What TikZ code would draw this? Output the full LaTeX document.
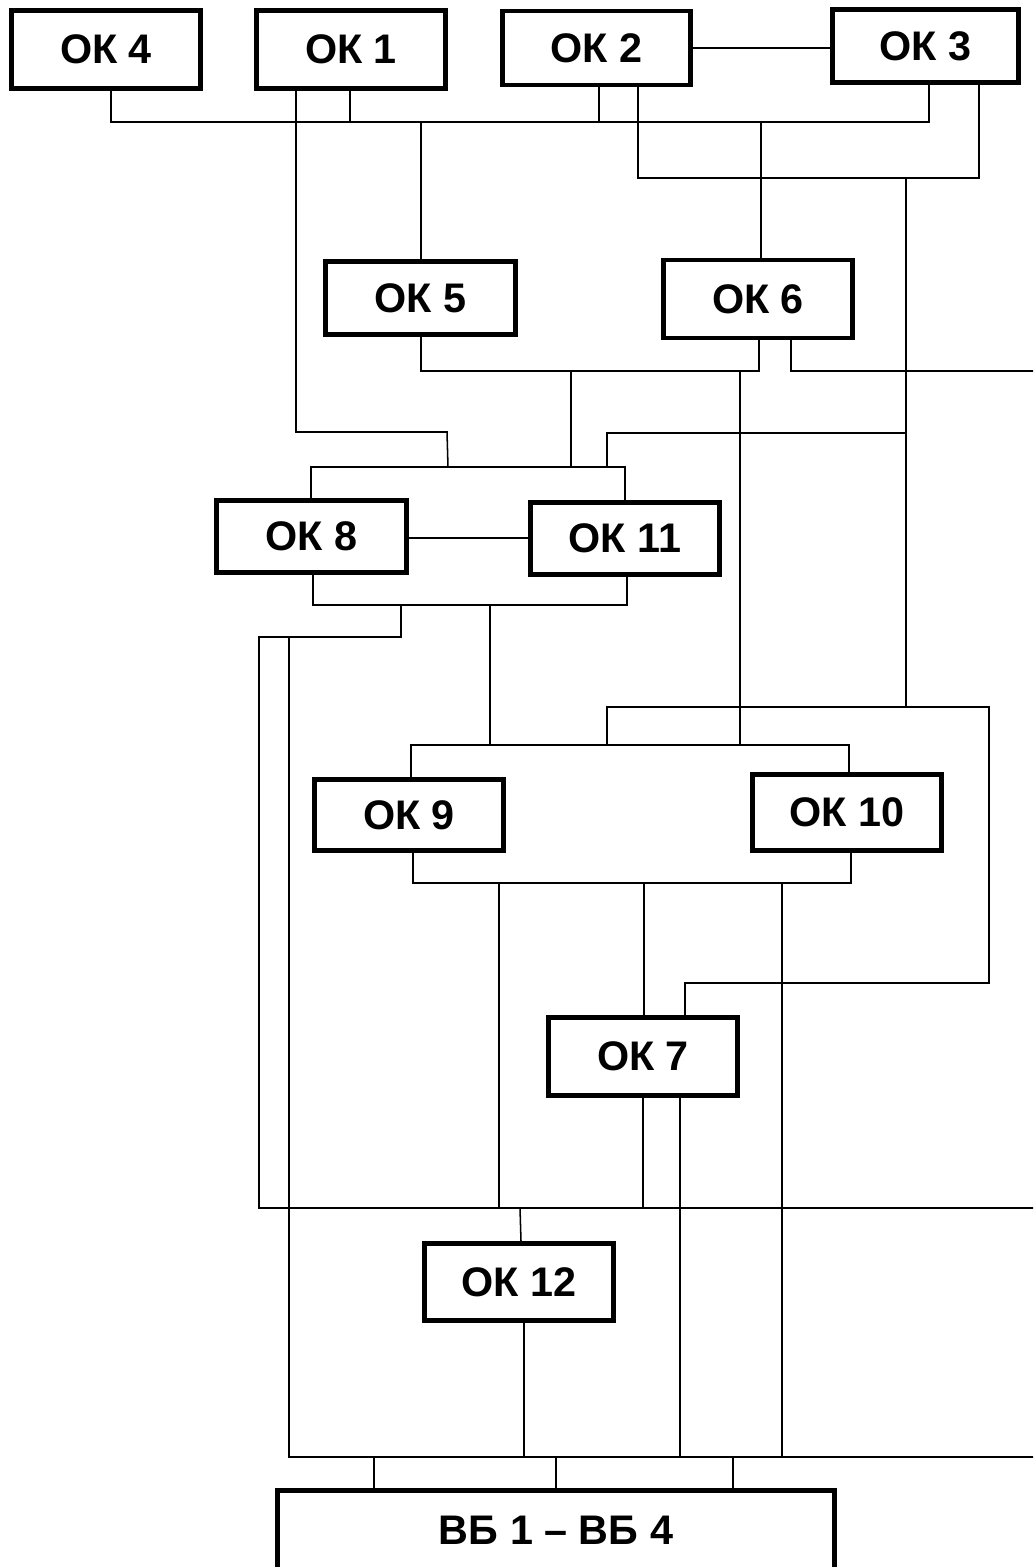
\documentclass[tikz,border=0pt]{standalone}
\usepackage{fontspec}
\setmainfont{Liberation Sans}
\tikzset{
  okbox/.style 2 args={draw=black, line width=3.5pt, fill=white, inner sep=0pt,
    minimum width={(#1-4.7)*0.75pt}, minimum height={(#2-4.7)*0.75pt},
    font=\bfseries\fontsize{31}{36}\selectfont},
  wire/.style={draw=black, line width=1.15pt, line join=miter}
}
\begin{document}
\begin{tikzpicture}[x=0.75pt,y=-0.75pt]
\clip (0,0) rectangle (1033,1567);
\fill[white] (0,0) rectangle (1033,1567);

% boxes
\node[okbox={194}{83}] (ok4) at (106,49.5) {ОК 4};
\node[okbox={194}{83}] (ok1) at (351,49.5) {ОК 1};
\node[okbox={193}{79}] (ok2) at (596.5,48) {ОК 2};
\node[okbox={191}{78}] (ok3) at (925.5,46) {ОК 3};
\node[okbox={195}{78}] (ok5) at (420.5,298) {ОК 5};
\node[okbox={194}{83}] (ok6) at (758,299) {ОК 6};
\node[okbox={195}{77}] (ok8) at (311.5,536.5) {ОК 8};
\node[okbox={194}{77}] (ok11) at (625,538.5) {ОК 11};
\node[okbox={194}{76}] (ok9) at (409,815) {ОК 9};
\node[okbox={194}{81}] (ok10) at (847,812.5) {ОК 10};
\node[okbox={194}{83}] (ok7) at (643,1056.5) {ОК 7};
\node[okbox={194}{82}] (ok12) at (519,1282) {ОК 12};
\node[okbox={562}{84}] (vb) at (556,1530) {ВБ 1 – ВБ 4};

% free ends leaving the picture on the right
\coordinate (eD) at (1045,371);
\coordinate (eH) at (1045,1208);
\coordinate (eI) at (1045,1457);

% top
\draw[wire] (ok2.east) -- (ok2.east -| ok3.west);
\draw[wire] (ok4.south -| 111,0) -- (111,122) -- (929,122) -- (ok3.south -| 929,0);
\draw[wire] (ok1.south -| 350,0) -- (350,122);
\draw[wire] (ok2.south -| 599,0) -- (599,122);
\draw[wire] (421,122) -- (ok5.north -| 421,0);
\draw[wire] (761,122) -- (ok6.north -| 761,0);
\draw[wire] (ok2.south -| 638,0) -- (638,178) -- (979,178) -- (ok3.south -| 979,0);
\draw[wire] (906,178) -- (906,707);

% OK1 route to OK8/OK11
\draw[wire] (ok1.south -| 296,0) -- (296,432) -- (447,432) -- (448,467);

% bus below OK5/OK6
\draw[wire] (ok5.south -| 421,0) -- (421,371) -- (759,371) -- (ok6.south -| 759,0);
\draw[wire] (571,371) -- (571,467);
\draw[wire] (740,371) -- (740,745);
\draw[wire] (ok6.south -| 791,0) -- (791,371) -- (eD);
\draw[wire] (906,433) -- (607,433) -- (607,467);

% OK8 / OK11
\draw[wire] (ok8.north -| 311,0) -- (311,467) -- (625,467) -- (ok11.north -| 625,0);
\draw[wire] (ok8.east |- 0,538) -- (ok11.west |- 0,538);
\draw[wire] (ok8.south -| 313,0) -- (313,605) -- (627,605) -- (ok11.south -| 627,0);
\draw[wire] (401,605) -- (401,637) -- (259,637) -- (259,1208) -- (eH);
\draw[wire] (289,637) -- (289,1457) -- (eI);
\draw[wire] (490,605) -- (490,745);

% OK9 / OK10
\draw[wire] (607,745) -- (607,707) -- (989,707) -- (989,983) -- (685,983) -- (ok7.north -| 685,0);
\draw[wire] (ok9.north -| 411,0) -- (411,745) -- (849,745) -- (ok10.north -| 849,0);
\draw[wire] (ok9.south -| 413,0) -- (413,883) -- (851,883) -- (ok10.south -| 851,0);
\draw[wire] (499,883) -- (499,1208);
\draw[wire] (644,883) -- (ok7.north -| 644,0);
\draw[wire] (782,883) -- (782,1457);

% OK7 / OK12
\draw[wire] (ok7.south -| 643,0) -- (643,1208);
\draw[wire] (ok7.south -| 680,0) -- (680,1457);
\draw[wire] (520,1208) -- (ok12.north -| 521,0);
\draw[wire] (ok12.south -| 524,0) -- (524,1457);

% to VB
\draw[wire] (374,1457) -- (vb.north -| 374,0);
\draw[wire] (556,1457) -- (vb.north -| 556,0);
\draw[wire] (733,1457) -- (vb.north -| 733,0);
\end{tikzpicture}
\end{document}
